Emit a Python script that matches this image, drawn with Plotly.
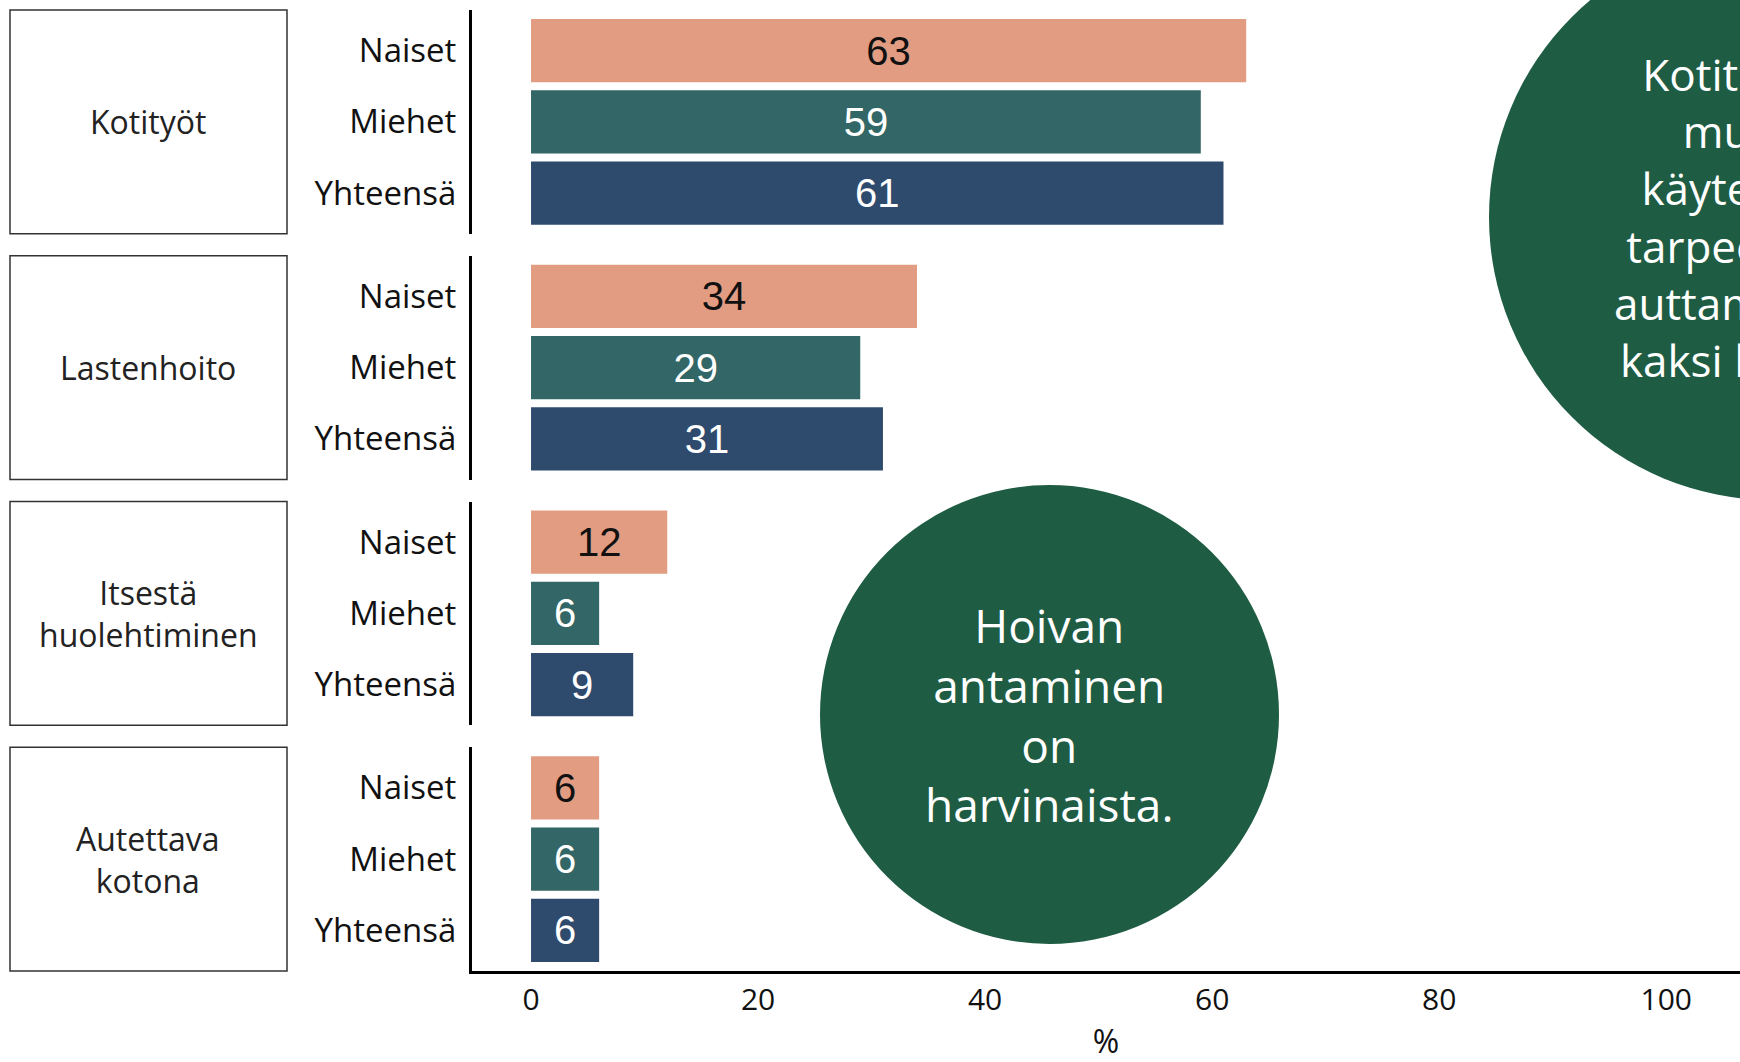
import plotly.graph_objects as go

# ---- data ----
groups = ["Kotityöt", "Lastenhoito", "Itsestä<br>huolehtiminen", "Autettava<br>kotona"]
series_names = ["Naiset", "Miehet", "Yhteensä"]
naiset = [63, 34, 12, 6]
miehet = [59, 29, 6, 6]
yhteensa = [61, 31, 9, 6]
x_ticks = [0, 20, 40, 60, 80, 100]
x_title = "%"
note_center = "Hoivan<br>antaminen<br>on<br>harvinaista."
note_right = "Kotitöissä<br>muita<br>käytetään<br>tarpeeseen<br>auttamiseen<br>kaksi kertaa"

# ---- styling ----
bar_colors = {"Naiset": "#E29C82", "Miehet": "#336666", "Yhteensä": "#2E4A6D"}
text_colors = {"Naiset": "#111111", "Miehet": "#FFFFFF", "Yhteensä": "#FFFFFF"}
circle_color = "#1F5C44"
UI_FONT = "Open Sans"

W, H = 1740, 1062
L, R, T, B = 472, 0, 10, 91
plot_w = W - L - R
plot_h = H - T - B
gap = 22
panel_h = (plot_h - 3 * gap) / 4

def px_to_paper_x(px):
    return (px - L) / plot_w

def px_to_paper_y(py):
    return (H - B - py) / plot_h

values = {"Naiset": naiset, "Miehet": miehet, "Yhteensä": yhteensa}

fig = go.Figure()
layout_axes = {}
for gi, g in enumerate(groups):
    ax = "" if gi == 0 else str(gi + 1)
    top_px = T + gi * (panel_h + gap)
    bot_px = top_px + panel_h
    dom = [px_to_paper_y(bot_px), px_to_paper_y(top_px)]
    for s in series_names:
        fig.add_trace(go.Bar(
            x=[values[s][gi]], y=[s], orientation="h",
            xaxis="x" + ax, yaxis="y" + ax,
            marker=dict(color=bar_colors[s], line=dict(width=0)),
            width=0.887,
            text=[values[s][gi]], textposition="inside", insidetextanchor="middle",
            textfont=dict(family="Liberation Sans, Arial", size=40, color=text_colors[s]),
            constraintext="none",
            showlegend=False, hoverinfo="skip",
        ))
    is_bottom = gi == len(groups) - 1
    layout_axes["xaxis" + ax] = dict(
        domain=[0, 1], range=[-5.2, 106.5], anchor="y" + ax,
        tickvals=x_ticks, showticklabels=is_bottom, showgrid=False, zeroline=False,
        showline=is_bottom, linecolor="#000000", linewidth=3,
        ticks="", tickfont=dict(family=UI_FONT, size=30, color="#111111"),
        title=dict(text=x_title if is_bottom else "", font=dict(family=UI_FONT, size=32, color="#111111"), standoff=16),
        matches=None if gi == 0 else "x",
    )
    layout_axes["yaxis" + ax] = dict(
        domain=dom, anchor="x" + ax, type="category",
        categoryorder="array", categoryarray=series_names,
        range=[2.57, -0.57], showgrid=False, zeroline=False,
        showline=True, linecolor="#000000", linewidth=3, ticks="",
        ticklabelstandoff=6,
        tickfont=dict(family=UI_FONT, size=33, color="#111111"),
    )
    # strip box
    fig.add_shape(type="rect", xref="paper", yref="paper",
                  x0=px_to_paper_x(10), x1=px_to_paper_x(287), y0=dom[0], y1=dom[1],
                  line=dict(color="#333333", width=1.5), fillcolor="rgba(0,0,0,0)")
    fig.add_annotation(xref="paper", yref="paper",
                       x=px_to_paper_x(148.5), y=(dom[0] + dom[1]) / 2,
                       text=g, showarrow=False, xanchor="center", yanchor="middle",
                       font=dict(family=UI_FONT, size=32, color="#222222"))

# decorative circles with notes
fig.add_shape(type="circle", xref="paper", yref="paper", layer="above",
              x0=px_to_paper_x(820), x1=px_to_paper_x(1279),
              y0=px_to_paper_y(944), y1=px_to_paper_y(485),
              fillcolor=circle_color, line=dict(width=0))
fig.add_annotation(xref="paper", yref="paper", x=px_to_paper_x(1049.5), y=px_to_paper_y(714.5),
                   text=note_center, showarrow=False, xanchor="center", yanchor="middle",
                   font=dict(family=UI_FONT, size=46, color="#FFFFFF"))
fig.add_shape(type="circle", xref="paper", yref="paper", layer="above",
              x0=px_to_paper_x(1489), x1=px_to_paper_x(2055),
              y0=px_to_paper_y(500), y1=px_to_paper_y(-66),
              fillcolor=circle_color, line=dict(width=0))
fig.add_annotation(xref="paper", yref="paper", x=px_to_paper_x(1742), y=px_to_paper_y(217),
                   text=note_right, showarrow=False, xanchor="center", yanchor="middle",
                   font=dict(family=UI_FONT, size=44, color="#FFFFFF"))

fig.update_layout(
    width=W, height=H,
    margin=dict(l=L, r=R, t=T, b=B),
    paper_bgcolor="#FFFFFF", plot_bgcolor="#FFFFFF",
    barmode="overlay",
    **layout_axes,
)

fig.write_html("out.html", config={"displayModeBar": False},
               post_script="document.body.style.margin='0px';")
